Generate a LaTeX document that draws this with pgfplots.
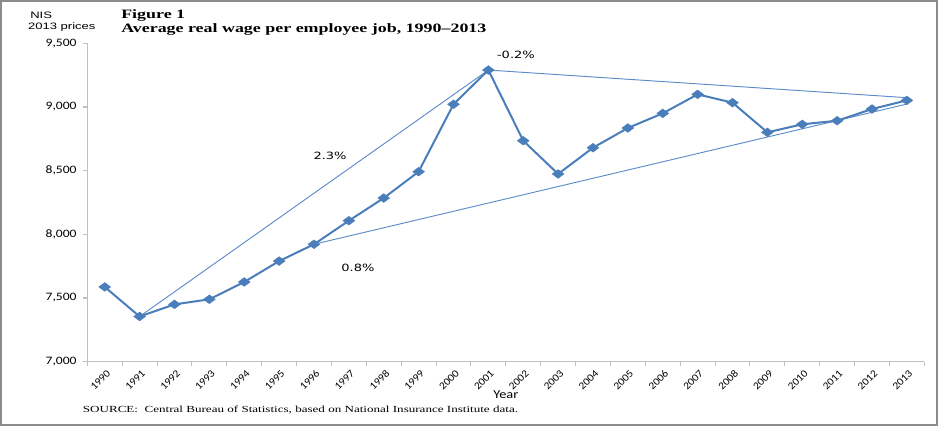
\documentclass[border=0pt]{standalone}
\usepackage{fontspec}
\usepackage{pgfplots}
\pgfplotsset{compat=1.18}
\setmainfont{Carlito}
\newfontfamily\tickfont[FakeStretch=1.2]{Carlito}
\newfontfamily\yeartick[FakeStretch=1.1]{Carlito}
\newfontfamily\pctfont[FakeStretch=1.3]{DejaVu Sans}
\newfontfamily\titlefont[FakeStretch=1.4, Ligatures=TeX]{Liberation Serif}
\newfontfamily\nisfont[FakeStretch=1.4]{Liberation Sans}
\definecolor{serblue}{HTML}{4A7EBB}
\definecolor{trendblue}{HTML}{5B8BC8}
\definecolor{axgray}{HTML}{BFBFBF}
\definecolor{framegray}{HTML}{8C8C8C}

\begin{document}
\begin{tikzpicture}
\useasboundingbox (0,0) rectangle (705pt,319.5pt);
\draw[framegray, line width=1.5pt] (0.6pt,1.1pt) rectangle (703.1pt,318.9pt);

% headings
\node[anchor=base west, inner sep=0pt, font=\nisfont\fontsize{7}{8}\selectfont] at (22.5pt,305.5pt) {NIS};
\node[anchor=base west, inner sep=0pt, font=\nisfont\fontsize{7}{8}\selectfont] at (20.8pt,297.5pt) {2013 prices};
\node[anchor=base west, inner sep=0pt, font=\titlefont\bfseries\fontsize{9.6}{11}\selectfont] at (90.75pt,305.8pt) {Figure 1};
\node[anchor=base west, inner sep=0pt, font=\titlefont\bfseries\fontsize{9.6}{11}\selectfont] at (90.75pt,295.3pt) {Average real wage per employee job, 1990–2013};
\node[anchor=base west, inner sep=0pt, font=\titlefont\fontsize{7}{8}\selectfont] at (62pt,10pt) {SOURCE:\ \ Central Bureau of Statistics, based on National Insurance Institute data.};

\begin{axis}[
  scale only axis, width=627.75pt, height=238.8pt,
  at={(65.475pt,48.225pt)}, anchor=south west,
  xmin=1989.5, xmax=2013.5, ymin=7000, ymax=9500,
  axis x line=bottom, axis y line=left,
  axis line style={-, axgray, line width=0.8pt},
  xtick={1990,...,2013},
  xticklabels={1990,1991,1992,1993,1994,1995,1996,1997,1998,1999,2000,2001,2002,2003,2004,2005,2006,2007,2008,2009,2010,2011,2012,2013},
  minor xtick={1989.5,1990.5,...,2013.5},
  ytick={7000,7500,...,9500},
  tick align=outside, major tick length=3pt, minor tick length=3pt,
  tick style={axgray, line width=0.8pt},
  major x tick style={draw=none},
  /pgf/number format/assume math mode=true,
  yticklabel style={font=\tickfont\fontsize{8.5}{10}\selectfont, /pgf/number format/1000 sep={,}, xshift=-1.5pt},
  xticklabel style={rotate=45, anchor=north east, font=\yeartick\fontsize{7.8}{8}\selectfont, inner sep=1pt, yshift=-1.5pt},
  xlabel={Year},
  xlabel style={at={(axis description cs:0.5,-0.1046)}, anchor=center, font=\tickfont\fontsize{9}{10}\selectfont},
  clip=false,
]
\addplot[trendblue, line width=0.7pt] coordinates {(1991,7355) (2001,9290)};
\addplot[trendblue, line width=0.7pt] coordinates {(2001,9290) (2013,9073)};
\addplot[trendblue, line width=0.7pt] coordinates {(1996,7922) (2013,9023)};
\addplot[serblue, line width=1.5pt, mark=diamond*, mark size=3.3pt,
  mark options={xscale=1.8, fill=serblue, draw=serblue, line width=0.3pt}] coordinates {
  (1990,7587) (1991,7355) (1992,7450) (1993,7490) (1994,7626) (1995,7790)
  (1996,7922) (1997,8107) (1998,8285) (1999,8492) (2000,9021) (2001,9290)
  (2002,8735) (2003,8474) (2004,8680) (2005,8835) (2006,8950) (2007,9099)
  (2008,9034) (2009,8801) (2010,8864) (2011,8892) (2012,8984) (2013,9052)
};
\node[font=\pctfont\fontsize{7.5}{9}\selectfont] at (axis cs:2001.79,9408) {-0.2\%};
\node[font=\pctfont\fontsize{7.5}{9}\selectfont] at (axis cs:1996.46,8615) {2.3\%};
\node[font=\pctfont\fontsize{7.5}{9}\selectfont] at (axis cs:1997.26,7736) {0.8\%};
\end{axis}
\end{tikzpicture}
\end{document}
